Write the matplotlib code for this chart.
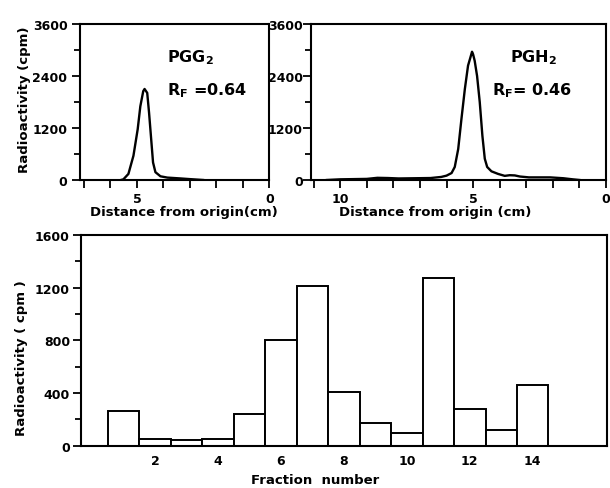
import matplotlib.pyplot as plt
from matplotlib.ticker import MultipleLocator, FixedLocator

plt.rcParams['font.family'] = 'DejaVu Sans'
plt.rcParams['font.weight'] = 'bold'
plt.rcParams['axes.labelweight'] = 'bold'
plt.rcParams['mathtext.default'] = 'bf'
plt.rcParams['font.size'] = 9

# TLC scan of PGG2: distance from origin (cm) vs radioactivity (cpm)
pgg2_cm = [5.6, 5.51, 5.32, 5.13, 4.97, 4.87, 4.76, 4.71, 4.61, 4.54, 4.46,
           4.39, 4.30, 4.11, 3.85, 3.34, 3.0, 2.5]
pgg2_cpm = [0, 15, 140, 560, 1170, 1700, 2050, 2100, 2010, 1550, 940,
            405, 180, 85, 55, 35, 20, 0]

# TLC scan of PGH2
pgh2_cm = [10.5, 10.0, 9.0, 8.6, 8.2, 7.8, 7.2, 6.6, 6.2, 6.0, 5.81, 5.69,
           5.56, 5.44, 5.31, 5.19, 5.10, 5.04, 5.00, 4.94, 4.85, 4.75, 4.65,
           4.56, 4.47, 4.31, 4.06, 3.81, 3.62, 3.43, 3.24, 2.9, 2.5, 2.1,
           1.6, 1.25, 1.0]
pgh2_cpm = [0, 15, 25, 50, 45, 35, 40, 45, 70, 100, 160, 300,
            715, 1400, 2100, 2640, 2830, 2960, 2900, 2750, 2400, 1800, 1020,
            490, 300, 200, 140, 95, 110, 105, 80, 60, 60, 60,
            40, 15, 0]

# column fractions
fractions = list(range(1, 15))
fraction_cpm = [260, 50, 40, 50, 240, 800, 1215, 410, 175, 100, 1270, 275, 120, 460]

fig = plt.figure(figsize=(6.10, 4.89), dpi=100)


def scan_panel(rect, x, y, xmax, xticks, name, rf, text_x, xlabel, xlabel_x, ypad):
    ax = fig.add_axes(rect)
    ax.plot(x, y, color='black', linewidth=1.7)
    ax.set_xlim(xmax, 0)
    ax.set_ylim(0, 3600)
    ax.xaxis.set_major_locator(FixedLocator(xticks))
    ax.xaxis.set_minor_locator(MultipleLocator(1))
    ax.yaxis.set_major_locator(MultipleLocator(1200))
    ax.yaxis.set_minor_locator(MultipleLocator(600))
    ax.tick_params(axis='x', which='both', direction='out', length=6, width=1.3, pad=3)
    ax.tick_params(axis='y', which='major', direction='out', length=6, width=1.3, pad=ypad)
    ax.tick_params(axis='y', which='minor', direction='out', length=4, width=1.3)
    for s in ax.spines.values():
        s.set_linewidth(1.5)
    ax.text(text_x[0], 0.79, name, transform=ax.transAxes, fontsize=11.5, va='center')
    ax.text(text_x[1], 0.58, rf, transform=ax.transAxes, fontsize=11.5, va='center')
    ax.set_xlabel(xlabel, fontsize=9.5)
    ax.xaxis.set_label_coords(xlabel_x, -0.16)
    return ax


ax1 = scan_panel([0.1311, 0.6299, 0.3103, 0.3190], pgg2_cm, pgg2_cpm, 7.15, [0, 5],
                 'PGG$_2$', 'R$_F$ =0.64', (0.46, 0.46),
                 'Distance from origin(cm)', 0.55, 3)
ax1.set_ylabel('Radioactivity (cpm)', fontsize=9.5)
ax1.yaxis.set_label_coords(-0.26, 0.52)

ax2 = scan_panel([0.5098, 0.6299, 0.4836, 0.3190], pgh2_cm, pgh2_cpm, 11.1, [0, 5, 10],
                 'PGH$_2$', 'R$_F$= 0.46', (0.675, 0.612),
                 'Distance from origin (cm)', 0.42, 0)

# bottom: fraction histogram
ax3 = fig.add_axes([0.1328, 0.0865, 0.8618, 0.4309])
ax3.bar(fractions, fraction_cpm, width=1.0, color='white', edgecolor='black', linewidth=1.4)
ax3.set_xlim(-0.35, 16.35)
ax3.set_ylim(0, 1600)
ax3.set_xticks(range(2, 15, 2))
ax3.yaxis.set_major_locator(MultipleLocator(400))
ax3.yaxis.set_minor_locator(MultipleLocator(200))
ax3.tick_params(axis='x', length=0, pad=6)
ax3.tick_params(axis='y', which='major', direction='out', length=6, width=1.3, pad=2)
ax3.tick_params(axis='y', which='minor', direction='out', length=4, width=1.3)
for s in ax3.spines.values():
    s.set_linewidth(1.5)
ax3.set_xlabel('Fraction  number', fontsize=9.5)
ax3.xaxis.set_label_coords(0.445, -0.13)
ax3.set_ylabel('Radioactivity ( cpm )', fontsize=9.5)
ax3.yaxis.set_label_coords(-0.1, 0.42)

plt.savefig('out.png', dpi=100)
